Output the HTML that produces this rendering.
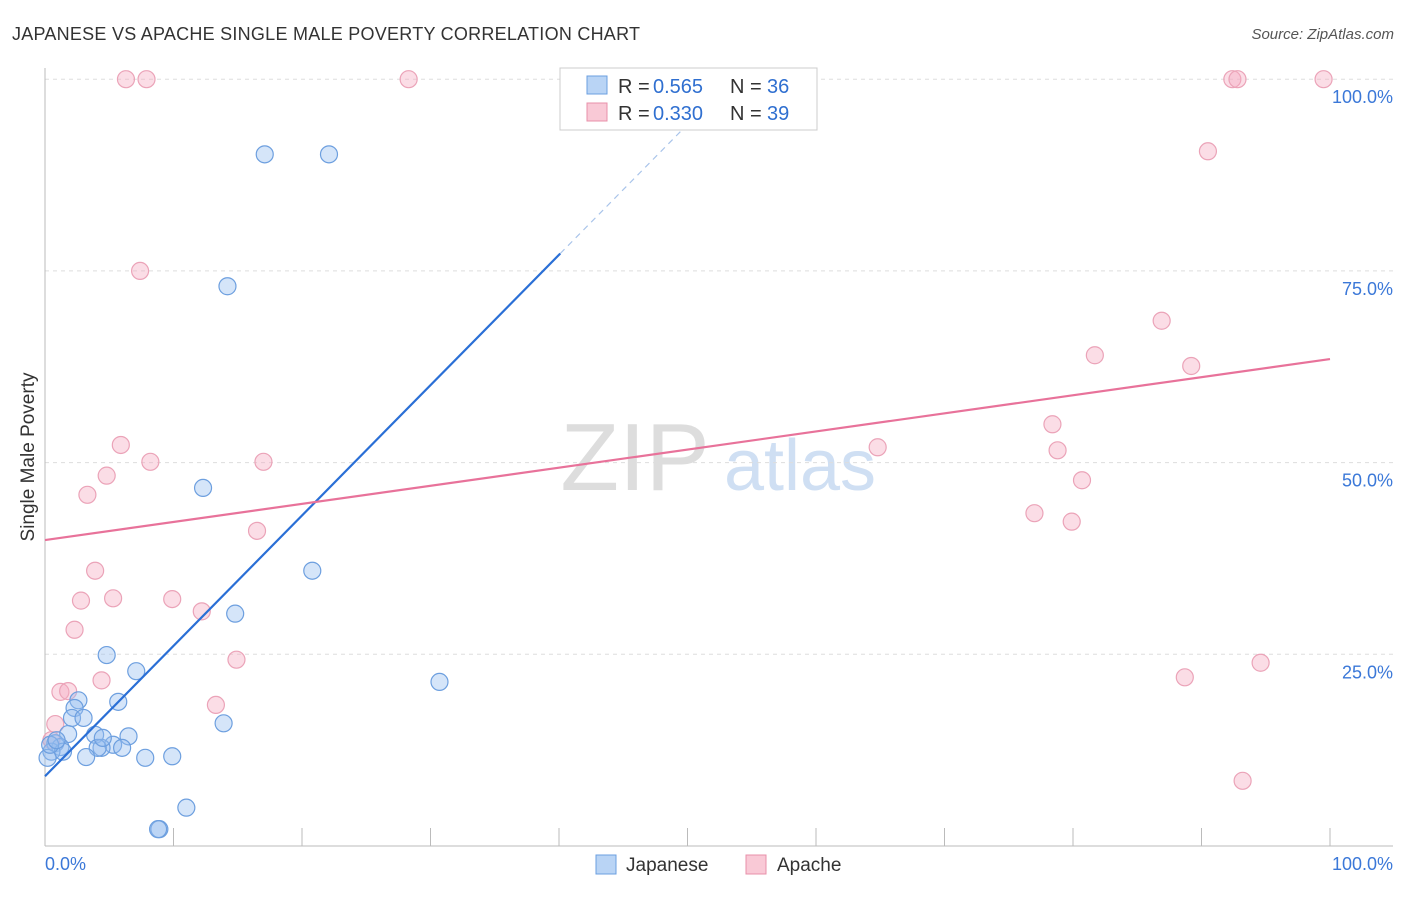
<!DOCTYPE html>
<html><head><meta charset="utf-8"><style>
body{margin:0;background:#fff;font-family:"Liberation Sans",sans-serif}
svg text{font-family:"Liberation Sans",sans-serif}
</style></head><body>
<svg id="c" width="1406" height="892">
<text x="12" y="40" font-size="18" textLength="628" fill="#333">JAPANESE VS APACHE SINGLE MALE POVERTY CORRELATION CHART</text>
<text x="1394" y="39" font-size="15" fill="#555" font-style="italic" text-anchor="end">Source: ZipAtlas.com</text>
<text x="635" y="490" font-size="96" fill="#ddd" font-family="Liberation Serif" text-anchor="middle">ZIP</text>
<text x="800" y="490" font-size="72" fill="#cfdff3" text-anchor="middle">atlas</text>
<text transform="translate(34,457) rotate(-90)" font-size="19" fill="#333" text-anchor="middle">Single Male Poverty</text>
<g id="grid"></g><g id="pts"></g><g id="lines"></g>
<g>
<rect x="560" y="68" width="257" height="62" fill="#fff" stroke="#ccc"/>
<rect x="587" y="76" width="20" height="18" fill="#b9d4f5" stroke="#6b9fe0"/>
<rect x="587" y="103" width="20" height="18" fill="#f9c9d6" stroke="#e890aa"/>
<text x="618" y="93" font-size="20" fill="#333">R = </text>
<text x="653" y="93" font-size="20" fill="#2f6fd0">0.565</text>
<text x="730" y="93" font-size="20" fill="#333">N = </text>
<text x="767" y="93" font-size="20" fill="#2f6fd0">36</text>
<text x="618" y="120" font-size="20" fill="#333">R = </text>
<text x="653" y="120" font-size="20" fill="#2f6fd0">0.330</text>
<text x="730" y="120" font-size="20" fill="#333">N = </text>
<text x="767" y="120" font-size="20" fill="#2f6fd0">39</text>
</g>
<g>
<rect x="596" y="855" width="20" height="19" fill="#b9d4f5" stroke="#6b9fe0"/>
<text x="626" y="871" font-size="19" fill="#333">Japanese</text>
<rect x="746" y="855" width="20" height="19" fill="#f9c9d6" stroke="#e890aa"/>
<text x="777" y="871" font-size="19" fill="#333">Apache</text>
</g>
<text x="45" y="870" font-size="18" fill="#3b78d8">0.0%</text>
<text x="1393" y="870" font-size="18" fill="#3b78d8" text-anchor="end">100.0%</text>
</svg>
<script>
const jpX=[17.1,22.1,14.2,12.3,20.8,14.8,4.8,7.1,30.7,2.6,5.7,2.3,2.1,3.0,13.9,1.8,3.9,6.5,0.8,1.2,5.3,4.4,4.1,6.0,0.5,1.4,3.2,7.8,9.9,11.0,8.9,8.8,0.2,0.4,0.9,4.5];
const jpY=[90.2,90.2,73.0,46.7,35.9,30.3,24.9,22.8,21.4,19.0,18.8,18.0,16.7,16.7,16.0,14.6,14.5,14.3,13.4,12.9,13.2,12.8,12.8,12.8,12.3,12.3,11.6,11.5,11.7,5.0,2.2,2.2,11.5,13.2,13.8,14.1];
const apX=[6.3,7.9,28.3,92.4,92.8,99.5,90.5,7.4,86.9,81.7,89.2,78.4,78.8,5.9,64.8,8.2,17.0,4.8,80.7,3.3,77.0,79.9,16.5,3.9,2.8,5.3,9.9,12.2,2.3,14.9,94.6,4.4,88.7,1.2,1.8,13.3,0.8,0.5,93.2];
const apY=[100,100,100,100,100,100,90.6,75.0,68.5,64.0,62.6,55.0,51.6,52.3,52.0,50.1,50.1,48.3,47.7,45.8,43.4,42.3,41.1,35.9,32.0,32.3,32.2,30.6,28.2,24.3,23.9,21.6,22.0,20.1,20.2,18.4,15.9,13.8,8.5];
const yTicks=[25,50,75,100];
const yTickLabels=["25.0%","50.0%","75.0%","100.0%"];
const jpTrend=[9.1,1.70];
const apTrend=[39.9,63.5];
const NS="http://www.w3.org/2000/svg";
const sx=v=>45+v*12.85, sy=v=>846-v*7.668;
function mk(t,a,p){const e=document.createElementNS(NS,t);for(const k in a)e.setAttribute(k,a[k]);p.appendChild(e);return e;}
const g=document.getElementById('grid');
yTicks.forEach((t,i)=>{
 const l=mk('line',{x1:45,x2:1393,y1:sy(t),y2:sy(t),stroke:'#ddd','stroke-dasharray':'4,4'},g);
 
 
 const tx=mk('text',{x:1393,y:sy(t)+24,'font-size':18,fill:'#3b78d8','text-anchor':'end'},g);
 tx.textContent=yTickLabels[i];
 
 
});
mk('line',{x1:45,x2:45,y1:68,y2:846,stroke:'#bbb'},g);
mk('line',{x1:45,x2:1393,y1:846,y2:846,stroke:'#bbb'},g);
for(let i=1;i<=10;i++){const t=mk('line',{x1:sx(i*10),x2:sx(i*10),y1:828,y2:846,stroke:'#bbb'},g);
 
 }
const P=document.getElementById('pts');
apX.forEach((x,i)=>{const c=mk('circle',{cx:sx(x),cy:sy(apY[i]),r:8.5,fill:'rgba(246,170,192,0.4)',stroke:'#eba3b8','stroke-width':1.2},P);
 
 });
jpX.forEach((x,i)=>{const c=mk('circle',{cx:sx(x),cy:sy(jpY[i]),r:8.5,fill:'rgba(150,190,240,0.4)',stroke:'#6d9fdf','stroke-width':1.2},P);
 
 });
const L=document.getElementById('lines');
const f=x=>jpTrend[0]+jpTrend[1]*x;
const b1=mk('line',{x1:sx(0),y1:sy(f(0)),x2:sx(40.1),y2:sy(f(40.1)),stroke:'#2a6fd6','stroke-width':2.2},L);


const b2=mk('line',{x1:sx(40.1),y1:sy(f(40.1)),x2:sx(52.5),y2:sy(f(52.5)),stroke:'#a9c4ea','stroke-width':1.2,'stroke-dasharray':'6,5'},L);


const a1=mk('line',{x1:sx(0),y1:sy(apTrend[0]),x2:sx(100),y2:sy(apTrend[1]),stroke:'#e8729a','stroke-width':2.2},L);


</script>
</body></html>
